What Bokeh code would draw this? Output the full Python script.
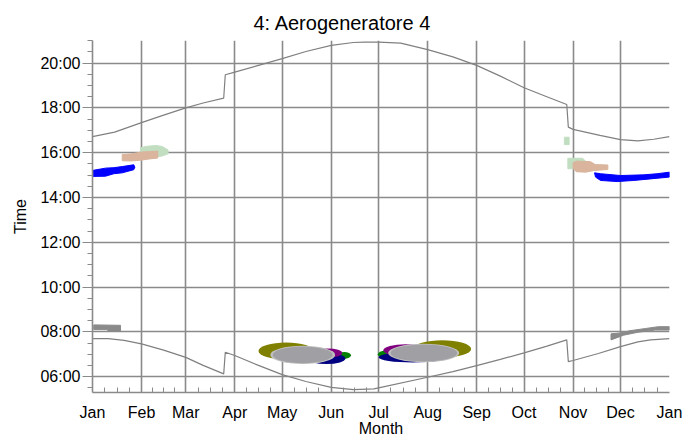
from bokeh.plotting import figure
from bokeh.models import FixedTicker, Range1d
from bokeh.embed import file_html
from bokeh.resources import INLINE

# ---------------- data ----------------
title_text = "4: Aerogeneratore 4"
month_starts = [0, 31, 59, 90, 120, 151, 181, 212, 243, 273, 304, 334, 365]
month_labels = ["Jan", "Feb", "Mar", "Apr", "May", "Jun", "Jul", "Aug", "Sep", "Oct", "Nov", "Dec", "Jan"]
hour_ticks = [6, 8, 10, 12, 14, 16, 18, 20]
hour_labels = ["06:00", "08:00", "10:00", "12:00", "14:00", "16:00", "18:00", "20:00"]

# sunset / sunrise (day of year, hour of day)
sunset_day = [0, 14, 31, 45, 59, 70, 83, 84, 90, 105, 120, 135, 151, 165, 172, 181, 195, 212, 228, 243, 258, 273, 287, 300, 301, 304, 321, 334, 345, 355, 365]
sunset_hour = [16.72, 16.92, 17.34, 17.68, 18.0, 18.22, 18.44, 19.48, 19.6, 19.9, 20.2, 20.52, 20.79, 20.92, 20.94, 20.94, 20.89, 20.6, 20.28, 19.9, 19.42, 18.9, 18.51, 18.15, 17.14, 17.04, 16.77, 16.58, 16.53, 16.6, 16.72]
sunrise_day = [0, 10, 20, 31, 45, 59, 70, 83, 84, 90, 105, 120, 135, 151, 165, 178, 181, 212, 228, 243, 258, 273, 287, 300, 301, 304, 320, 334, 345, 353, 365]
sunrise_hour = [7.70, 7.70, 7.62, 7.46, 7.18, 6.86, 6.50, 6.12, 7.09, 6.94, 6.50, 6.09, 5.78, 5.52, 5.42, 5.45, 5.50, 5.97, 6.22, 6.49, 6.77, 7.06, 7.35, 7.64, 6.67, 6.72, 7.03, 7.34, 7.55, 7.64, 7.70]

# shadow bands (polygons: day, hour)
jan_blue_day = [0.4, 8.2, 13.5, 18.8, 26.1, 26.8, 26.1, 18.8, 13.5, 8.2, 0.4]
jan_blue_hour = [15.21, 15.31, 15.33, 15.38, 15.46, 15.35, 15.24, 15.10, 15.06, 14.95, 14.94]

feb_green_day = [30.4, 34, 40, 44, 47.8, 47.8, 44, 38, 30.4]
feb_green_hour = [16.22, 16.28, 16.32, 16.28, 16.12, 15.95, 15.85, 15.80, 15.80]

feb_tan_day = [18.8, 25, 31, 37, 41.3, 41.3, 36, 30, 24, 18.8]
feb_tan_hour = [15.92, 15.95, 16.03, 16.05, 16.07, 15.76, 15.72, 15.66, 15.63, 15.64]

jan_gray_day = [0.8, 17.7, 17.7, 9.7, 9.7, 0.8]
jan_gray_hour = [8.31, 8.29, 8.03, 8.03, 8.10, 8.10]

dec_gray_day = [328, 334, 340, 350, 358, 365, 365, 356, 345, 336, 328]
dec_gray_hour = [7.91, 7.95, 8.05, 8.15, 8.23, 8.23, 8.08, 8.08, 7.98, 7.85, 7.64]

oct_green_small_day = [298.5, 301.5, 301.5, 298.5]
oct_green_small_hour = [16.69, 16.69, 16.36, 16.36]

nov_green_day = [300.7, 310, 313, 313, 300.7]
nov_green_hour = [15.75, 15.75, 15.55, 15.30, 15.28]

nov_tan_day = [304, 306, 315, 318, 326, 326, 317, 312, 306, 304]
nov_tan_hour = [15.55, 15.62, 15.60, 15.47, 15.45, 15.25, 15.20, 15.13, 15.15, 15.30]

dec_blue_day = [317.6, 321.4, 334, 348.8, 357.2, 365, 365, 353, 342.4, 331.9, 321.4, 318.2]
dec_blue_hour = [15.10, 15.06, 14.98, 15.01, 15.06, 15.13, 14.91, 14.83, 14.76, 14.71, 14.76, 14.91]

# summer shadow periods (start day, end day, low hour, high hour), back to front
summer_start = [155, 136, 140, 105, 112.5, 114, 180.5, 181, 184, 203, 187, 188.5]
summer_end = [163.5, 160, 158, 140, 153.5, 152, 190, 224, 212, 239.5, 232, 230.7]
summer_low = [6.80, 6.56, 6.85, 6.77, 6.56, 6.60, 6.84, 6.63, 6.90, 6.85, 6.64, 6.68]
summer_high = [7.10, 7.05, 7.26, 7.52, 7.38, 7.34, 7.16, 7.10, 7.45, 7.62, 7.47, 7.43]

# ---------------- styles ----------------
summer_colors = ["#008000", "#000080", "#800080", "#808000", "#C0C0C0", "#A0A0A4",
                 "#008000", "#000080", "#800080", "#808000", "#C0C0C0", "#A0A0A4"]
GRID = "#8a8a8a"
FONT = "Liberation Sans"

p = figure(width=699, height=441, x_range=Range1d(0, 365), y_range=Range1d(5.29, 21.01),
           output_backend="svg", toolbar_location=None,
           min_border_left=92, min_border_right=30, min_border_top=40, min_border_bottom=49)
p.outline_line_color = None
p.background_fill_color = "white"
p.border_fill_color = "white"

p.title.text = title_text
p.title.text_font = FONT
p.title.text_font_size = "20px"
p.title.text_font_style = "normal"
p.title.text_color = "black"
p.title.align = "left"
p.title.offset = 161
p.title.standoff = 14

# grid
p.xgrid.ticker = FixedTicker(ticks=month_starts[:-1])
p.ygrid.ticker = FixedTicker(ticks=hour_ticks)
for g in (p.xgrid, p.ygrid):
    g.grid_line_color = GRID
    g.grid_line_width = 1.6

# x axis
minor_x = []
for a, b in zip(month_starts[:-1], month_starts[1:]):
    for k in (1, 2, 3):
        minor_x.append(a + (b - a) * k / 4)
p.xaxis.ticker = FixedTicker(ticks=month_starts, minor_ticks=minor_x)
p.xaxis.major_label_overrides = {d: l for d, l in zip(month_starts, month_labels)}
p.xaxis.axis_label = "Month"
p.xaxis.major_tick_in = 0
p.xaxis.major_tick_out = 0
p.xaxis.minor_tick_in = 5
p.xaxis.minor_tick_out = 0
p.xaxis.major_label_standoff = 11
p.xaxis.axis_label_standoff = -4

# y axis
minor_y = [h + 0.5 * k for h in range(5, 21) for k in (1, 2, 3) if 5.29 < h + 0.5 * k < 21.01]
minor_y = sorted(set(v for v in minor_y if v not in hour_ticks) | {20.5, 5.5})
p.yaxis.ticker = FixedTicker(ticks=hour_ticks, minor_ticks=minor_y)
p.yaxis.major_label_overrides = {h: l for h, l in zip(hour_ticks, hour_labels)}
p.yaxis.axis_label = "Time"
p.yaxis.major_tick_in = 0
p.yaxis.major_tick_out = 10
p.yaxis.minor_tick_in = 0
p.yaxis.minor_tick_out = 5
p.yaxis.major_label_standoff = 2
p.yaxis.axis_label_standoff = 8

for ax in (p.xaxis, p.yaxis):
    ax.axis_line_color = GRID
    ax.axis_line_width = 1.6
    ax.major_tick_line_color = GRID
    ax.minor_tick_line_color = GRID
    ax.major_label_text_font = FONT
    ax.major_label_text_font_size = "16px"
    ax.major_label_text_color = "black"
    ax.axis_label_text_font = FONT
    ax.axis_label_text_font_size = "16px"
    ax.axis_label_text_font_style = "normal"
    ax.axis_label_text_color = "black"

# bands
bands = [
    (jan_blue_day, jan_blue_hour, "#0000FF"),
    (feb_green_day, feb_green_hour, "#C1DEC1"),
    (feb_tan_day, feb_tan_hour, "#DAB49C"),
    (jan_gray_day, jan_gray_hour, "#8A8A8A"),
    (dec_gray_day, dec_gray_hour, "#8A8A8A"),
    (oct_green_small_day, oct_green_small_hour, "#C1DEC1"),
    (nov_green_day, nov_green_hour, "#C1DEC1"),
    (nov_tan_day, nov_tan_hour, "#DAB49C"),
    (dec_blue_day, dec_blue_hour, "#0000FF"),
]
for xs, ys, c in bands:
    p.patch(xs, ys, fill_color=c, line_color=c, line_width=1)

# summer ellipses
for s, e, lo, hi, c in zip(summer_start, summer_end, summer_low, summer_high, summer_colors):
    p.ellipse(x=[(s + e) / 2], y=[(lo + hi) / 2], width=[e - s], height=[hi - lo],
              fill_color=c, line_color=None)

# sun lines
p.line(sunset_day, sunset_hour, line_color="#808080", line_width=1.2)
p.line(sunrise_day, sunrise_hour, line_color="#808080", line_width=1.2)

open("out.html", "w").write(file_html(p, INLINE))
